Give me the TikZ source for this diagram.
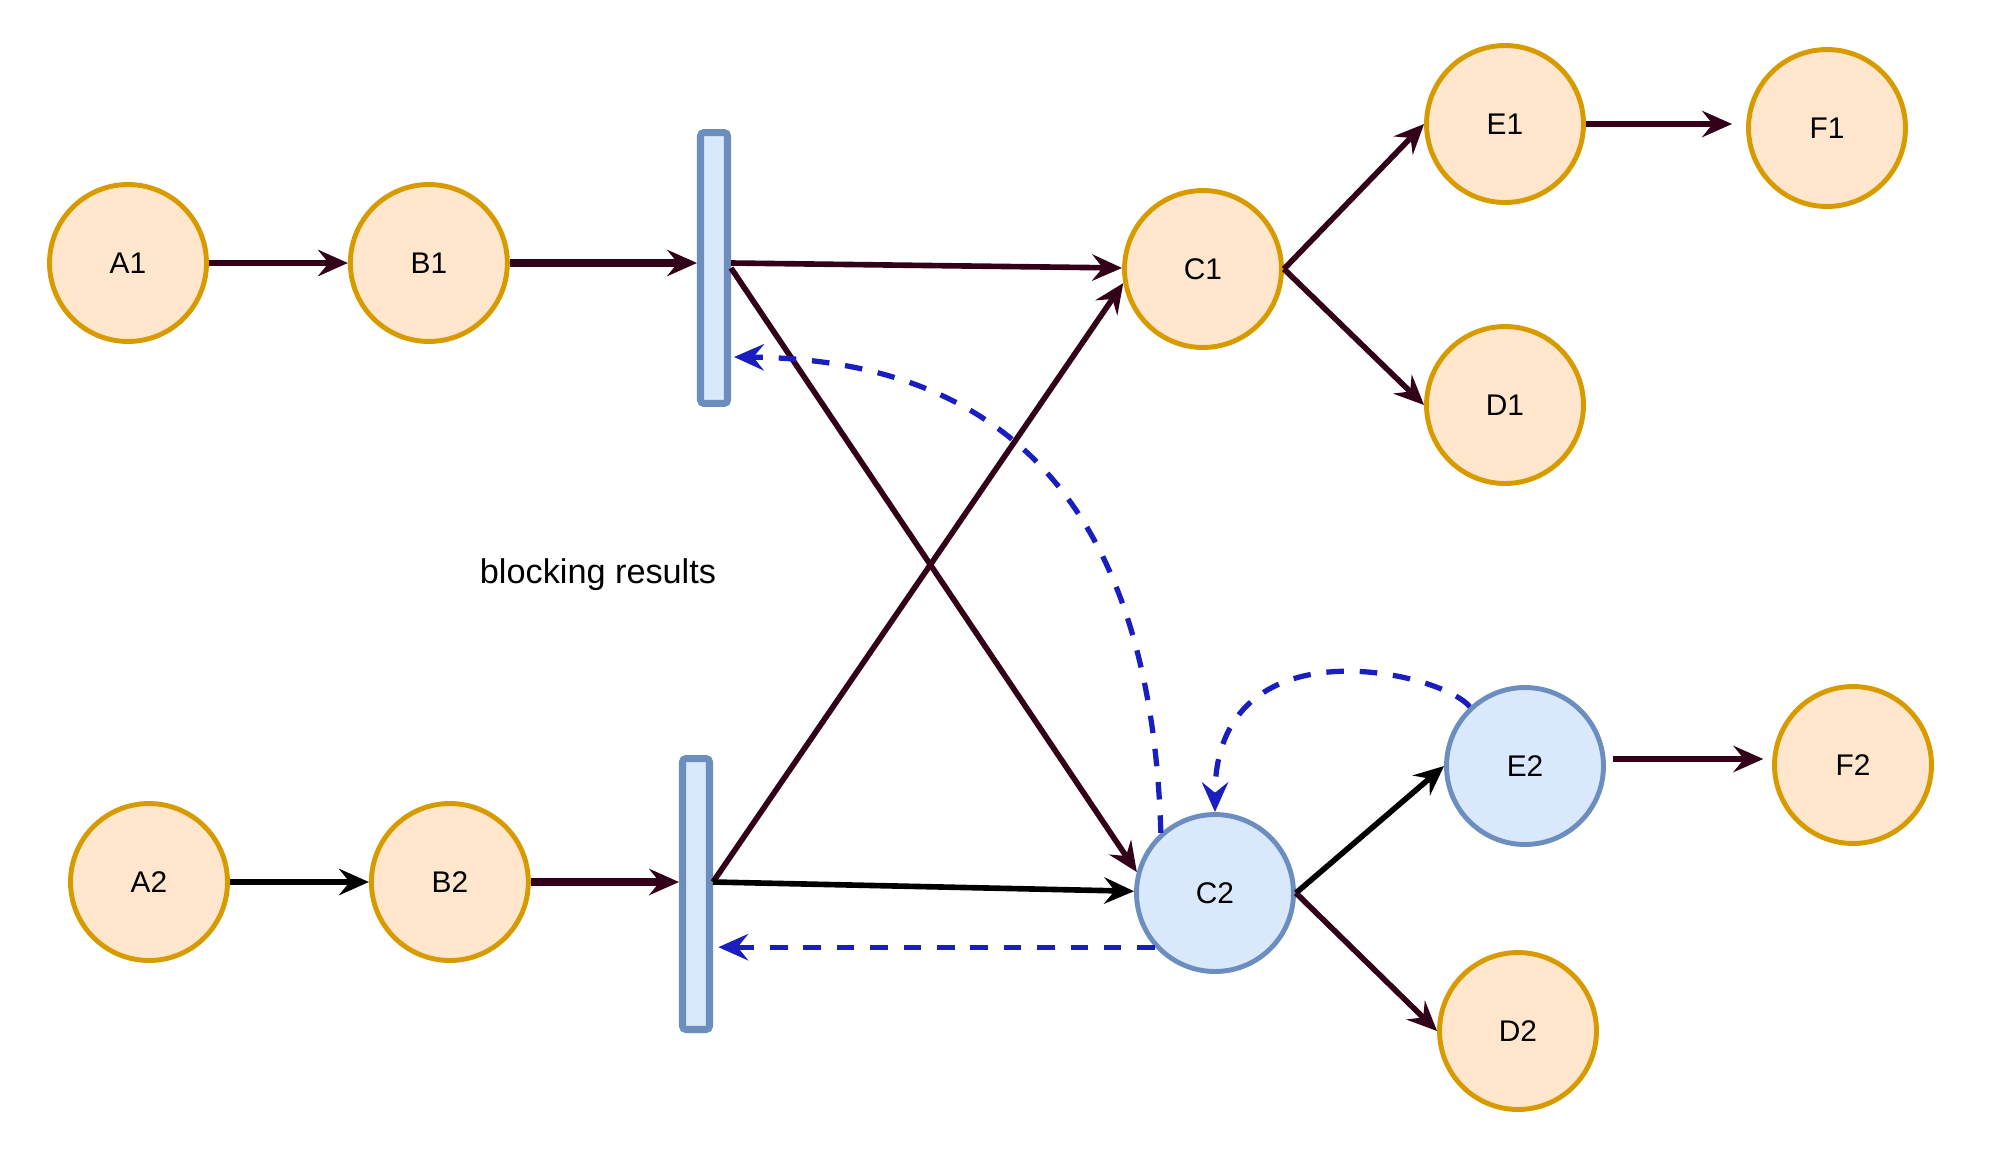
\documentclass[tikz,border=0pt]{standalone}
\usepackage{fontspec}
\setmainfont{Liberation Sans}
\usepackage{tikz}
\usetikzlibrary{arrows.meta, positioning, calc}
\definecolor{ordfill}{RGB}{255,230,204}
\definecolor{ordframe}{RGB}{215,155,0}
\definecolor{hotfill}{RGB}{218,232,252}
\definecolor{hotframe}{RGB}{108,142,191}
\definecolor{mymaroon}{RGB}{51,0,26}
\definecolor{myblue}{RGB}{26,30,190}
\tikzset{
  state/.style={circle, draw=ordframe, fill=ordfill, line width=2.8pt,
    minimum size=3.14cm, inner sep=0pt, font=\fontsize{17}{20}\selectfont},
  hot/.style={state, draw=hotframe, fill=hotfill},
  gate/.style={rectangle, draw=hotframe, fill=hotfill, line width=4pt,
    minimum width=0.54cm, minimum height=5.42cm, inner sep=0pt, rounded corners=2pt},
  link/.style={-{Stealth[length=17pt, width=15pt, inset=6pt]}, line width=3.2pt, color=mymaroon},
  heavy/.style={link, line width=4.7pt},
  back/.style={-{Stealth[length=17pt, width=15pt, inset=6pt]}, line width=3pt, color=myblue,
    dash pattern=on 10pt off 9pt}
}

\begin{document}
\begin{tikzpicture}[x=0.02cm, y=-0.02cm, node distance=2.78cm]
\useasboundingbox (0,0) rectangle (2002,1150);

% upper chain
\node[state] (A1) at (128,263) {A1};
\node[state, right=of A1] (B1) {B1};
\node[gate] (bar1) at (714,268) {};
\node[state] (C1) at (1203,269) {C1};
\node[state] (E1) at (1505,124) {E1};
\node[state] (F1) at (1827,128) {F1};
\node[state] (D1) at (1505,405) {D1};

% lower chain
\node[state] (A2) at (149,882) {A2};
\node[state, right=of A2] (B2) {B2};
\node[gate] (bar2) at (696,894) {};
\node[hot] (C2) at (1215,893) {C2};
\node[hot] (E2) at (1525,766) {E2};
\node[state] (F2) at (1853,765) {F2};
\node[state] (D2) at (1518,1031) {D2};

\node[font=\fontsize{19.5}{23}\selectfont] (note) at (598,575) {blocking results};

\coordinate (b1out) at ($(bar1.east)+(0,-5)$);
\coordinate (b2out) at ($(bar2.east)+(0,-12)$);
\coordinate (b1in) at ($(bar1.east)+(3,89)$);

% forward edges
\draw[link] (A1) -- (B1);
\draw[heavy] (B1) -- (B1 -| bar1.west);
\draw[link] (b1out) -- (C1);
\draw[link] (bar1.east) -- (C2.165);
\draw[link, color=black] (A2) -- (B2);
\draw[heavy] (B2) -- (B2 -| bar2.west);
\draw[link] (b2out) -- (C1.190);
\draw[link, color=black] (b2out) -- (C2);
\draw[link] (C1.east) -- (E1.west);
\draw[link] (C1.east) -- (D1.west);
\draw[link, shorten >=8pt] (E1.east) -- (E1.east -| F1.west);
\draw[link, color=black] (C2.east) -- (E2.west);
\draw[link] (C2.east) -- (D2.west);
\draw[link, shorten <=4pt, shorten >=5pt] ([yshift=0.14cm]E2.east) -- ([yshift=0.14cm]E2.east -| F2.west);

% blocking feedback
\draw[back] (C2.132) .. controls +(-8,-270) and +(316,3) .. (b1in);
\draw[back, shorten >=3pt] (C2.222) -- (C2.222 -| bar2.east);
\draw[back] (E2.133) .. controls +(-28,-35) and +(0,-193) .. (C2.north);
\end{tikzpicture}
\end{document}
